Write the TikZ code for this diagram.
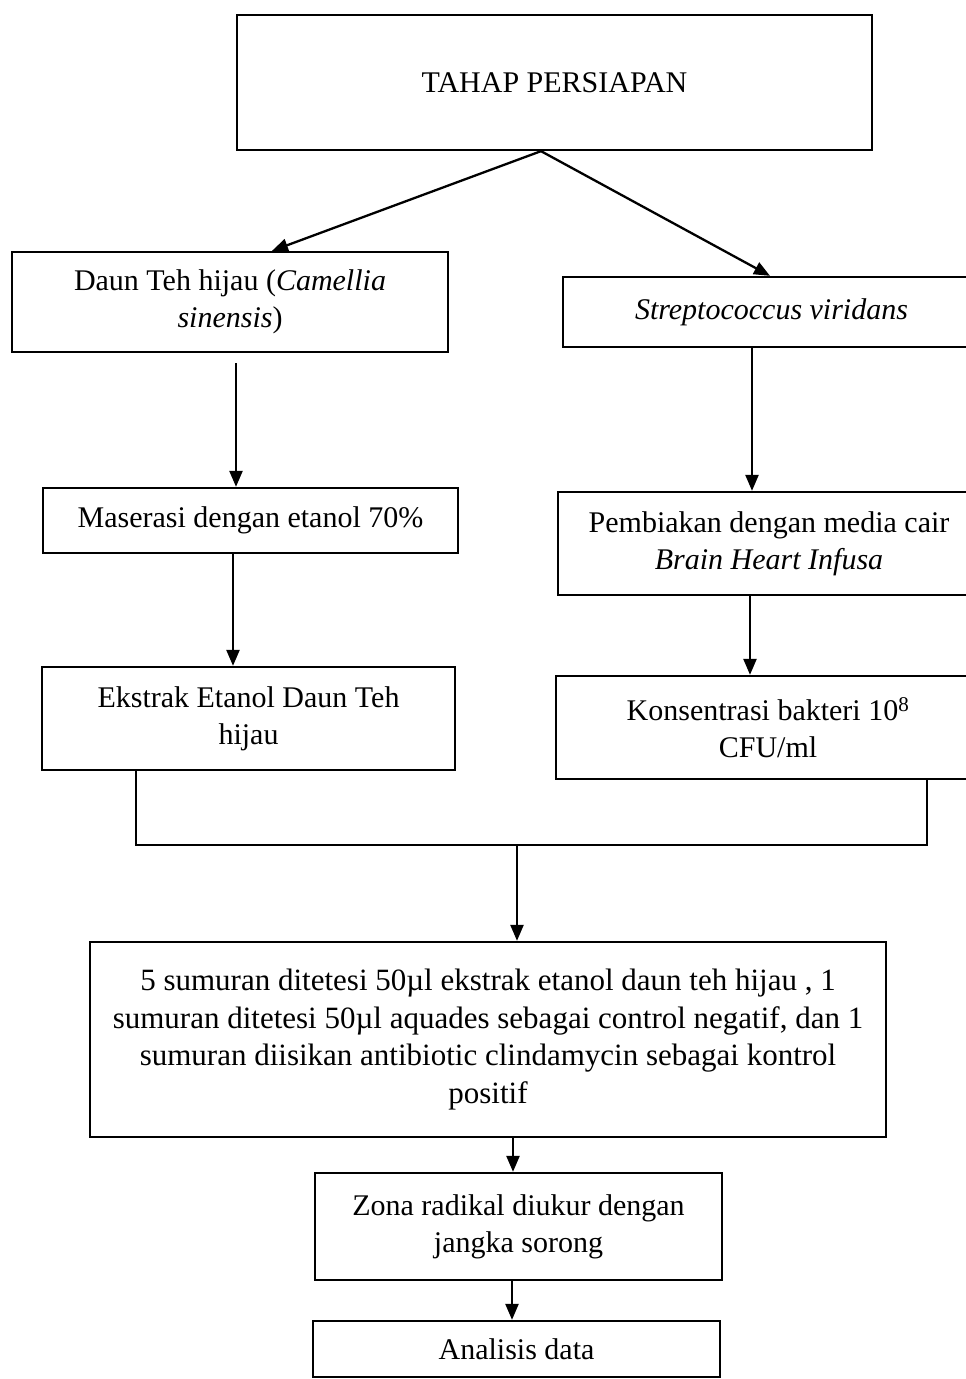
\documentclass[tikz,border=0pt]{standalone}
\usepackage{fontspec}
\setmainfont{Liberation Serif}
\usetikzlibrary{arrows.meta,calc}
\begin{document}
\begin{tikzpicture}[x=1pt,y=-1pt,
  box/.style={draw,line width=2.3pt,align=center,inner sep=0pt,font=\fontsize{30}{37}\selectfont},
  arr/.style={line width=2.3pt,-{Triangle[length=16pt,width=13pt]}},
  ln/.style={line width=2.3pt}]
\clip (0,0) rectangle (966,1379);
\fill[white] (0,0) rectangle (966,1379);
\node[box,minimum width=635pt,minimum height=135pt] (top) at (554.5,82.5) {TAHAP PERSIAPAN};
\node[box,minimum width=436pt,minimum height=100pt] (daun) at (230,302) {Daun Teh hijau (\textit{Camellia}\\\textit{sinensis})};
\node[box,minimum width=417pt,minimum height=70pt] (strep) at (771.5,312) {\textit{Streptococcus viridans}};
\node[box,minimum width=415pt,minimum height=65pt] (maser) at (250.5,520.5) {Maserasi dengan etanol 70\%};
\node[box,minimum width=422pt,minimum height=103pt] (pemb) at (769,543.5) {Pembiakan dengan media cair\\\textit{Brain Heart Infusa}};
\node[box,minimum width=413pt,minimum height=103pt] (ekstrak) at (248.5,718.5) {Ekstrak Etanol Daun Teh\\hijau};
\node[box,minimum width=424pt,minimum height=103pt] (konsen) at (768,727.5) {Konsentrasi bakteri 10\textsuperscript{8}\\CFU/ml};
\node[box,minimum width=796pt,minimum height=195pt,font=\fontsize{31}{37.5}\selectfont] (big) at (488,1039.5) {5 sumuran ditetesi 50µl ekstrak etanol daun teh hijau , 1\\sumuran ditetesi 50µl aquades sebagai control negatif, dan 1\\sumuran diisikan antibiotic clindamycin sebagai kontrol\\positif};
\node[box,minimum width=407pt,minimum height=107pt] (zona) at (518.5,1226.5) {Zona radikal diukur dengan\\jangka sorong};
\node[box,minimum width=407pt,minimum height=56pt] (anal) at (516.5,1349) {Analisis data};
\coordinate (merge) at (517,845);
\draw[arr] (top.south -| 541,0) -- (daun.north -| 272,0);
\draw[arr] (top.south -| 541,0) -- (strep.north -| 770,0);
\draw[arr] ($(daun.south -| 236,0)+(0,10)$) -- (maser.north -| 236,0);
\draw[arr] (maser.south -| 233,0) -- (ekstrak.north -| 233,0);
\draw[arr] (strep.south -| 752,0) -- (pemb.north -| 752,0);
\draw[arr] (pemb.south -| 750,0) -- (konsen.north -| 750,0);
\draw[ln] (ekstrak.south -| 136,0) |- (merge) -| (konsen.south -| 927,0);
\draw[arr] (merge) -- (big.north -| merge);
\draw[arr] (big.south -| 513,0) -- (zona.north -| 513,0);
\draw[arr] (zona.south -| 512,0) -- (anal.north -| 512,0);
\end{tikzpicture}
\end{document}
